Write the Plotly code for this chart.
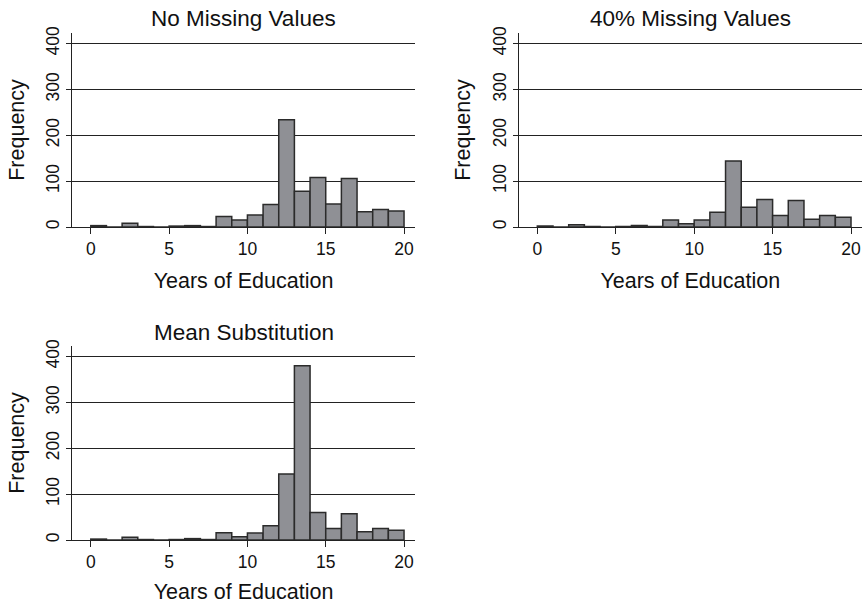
import plotly.graph_objects as go

bin_left = list(range(0, 20))
no_missing = [3, 0, 8, 1, 0, 2, 3, 1, 23, 15, 26, 49, 234, 78, 108, 50, 106, 33, 38, 35]
missing_40 = [2, 0, 5, 1, 0, 1, 3, 1, 15, 7, 15, 32, 144, 43, 60, 25, 58, 17, 25, 21]
mean_sub = [2, 0, 6, 1, 0, 1, 3, 1, 16, 7, 15, 31, 144, 380, 60, 25, 57, 18, 25, 21]

titles = ["No Missing Values", "40% Missing Values", "Mean Substitution"]
x_ticks = [0, 5, 10, 15, 20]
y_ticks = [0, 100, 200, 300, 400]

W, H = 862, 604
FONT = "Liberation Sans, Arial, sans-serif"
BAR_FILL = "#8f9095"
BAR_LINE = "#2b2b2b"

# panel pixel boxes: (left, right, top, bottom)
panels = [(72, 415, 33, 227), (518.5, 862, 33, 227), (72, 415, 346, 540)]
series = [no_missing, missing_40, mean_sub]

fig = go.Figure()
centers = [b + 0.5 for b in bin_left]

for i, (vals, box) in enumerate(zip(series, panels)):
    suf = "" if i == 0 else str(i + 1)
    fig.add_trace(go.Bar(
        x=centers, y=vals, width=1,
        marker=dict(color=BAR_FILL, line=dict(color=BAR_LINE, width=1.5)),
        xaxis="x" + suf, yaxis="y" + suf, showlegend=False,
    ))
    l, r, t, b = box
    fig.layout["xaxis" + suf] = dict(
        domain=[l / W, r / W], anchor="y" + suf, automargin=False,
        range=[-1.2, 20.7], tickvals=x_ticks, ticks="outside", ticklen=6,
        tickwidth=1, tickcolor="#222", showline=True, linecolor="#222",
        linewidth=1, showgrid=False, zeroline=False,
        tickfont=dict(size=17.5, color="#111", family=FONT),
        title=dict(text="Years of Education", font=dict(size=21.5, color="#111", family=FONT), standoff=14),
    )
    fig.layout["yaxis" + suf] = dict(
        domain=[1 - b / H, 1 - t / H], anchor="x" + suf, automargin=False,
        range=[0, 423], tickvals=y_ticks, ticks="outside", ticklen=5,
        tickwidth=1, tickcolor="#222", showline=True, linecolor="#222",
        linewidth=1, showgrid=True, gridcolor="#222", gridwidth=1,
        zeroline=False, tickangle=-90,
        tickfont=dict(size=17.5, color="#111", family=FONT),
        title=dict(text="Frequency", font=dict(size=21.5, color="#111", family=FONT), standoff=12),
    )
    fig.add_annotation(
        text=titles[i], x=(l + r) / 2 / W, y=1 - (t - 14) / H,
        xref="paper", yref="paper", xanchor="center", yanchor="middle",
        showarrow=False, font=dict(size=22.5, color="#111", family=FONT),
    )

fig.update_layout(
    width=W, height=H, margin=dict(l=0, r=0, t=0, b=0, autoexpand=False),
    paper_bgcolor="white", plot_bgcolor="white",
    bargap=0, font=dict(family=FONT), hovermode=False,
)

fig.write_html(
    "out.html",
    config={"displayModeBar": False, "staticPlot": True},
    post_script="document.body.style.margin='0';document.body.style.overflow='hidden';",
)
